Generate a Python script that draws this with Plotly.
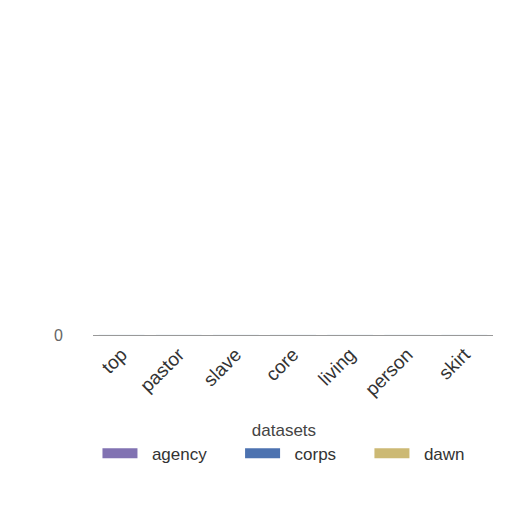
import plotly.graph_objects as go

categories = ["top", "pastor", "slave", "core", "living", "person", "skirt"]
series_names = ["agency", "corps", "dawn"]
agency = [0, 0, 0, 0, 0, 0, 0]
corps = [0, 0, 0, 0, 0, 0, 0]
dawn = [0, 0, 0, 0, 0, 0, 0]
colors = ["#8172b2", "#4c72b0", "#ccb974"]

fig = go.Figure()
for i, (name, vals, col) in enumerate(zip(series_names, [agency, corps, dawn], colors)):
    fig.add_trace(go.Bar(name=name, x=categories, y=vals, marker_color=col,
                         legendgroup=name, showlegend=False))
    # wide swatch for legend, padded label to space the entries out
    label = "  " + name + ("      " if i < len(series_names) - 1 else "")
    fig.add_trace(go.Scatter(name=label, x=[None], y=[None], mode="lines",
                             line=dict(color=col, width=11), legendgroup=name))

fig.update_layout(
    width=512, height=512,
    barmode="group",
    paper_bgcolor="white", plot_bgcolor="white",
    font=dict(family="Liberation Sans, Arial", size=17, color="#333333"),
    margin=dict(l=85, r=27, t=20, b=185, autoexpand=False),
    showlegend=True,
    legend=dict(
        orientation="h", xref="container", x=0.539, xanchor="center",
        y=-0.256, yanchor="top",
        title=dict(text="datasets", side="top center", font=dict(size=17, color="#444444")),
        font=dict(size=17), itemwidth=35,
    ),
)
fig.update_xaxes(tickangle=-45, showline=True, linecolor="#999999", ticks="",
                 automargin=False, tickfont=dict(size=19))
fig.update_yaxes(range=[0, 1], tickvals=[0], showgrid=False, zeroline=False,
                 automargin=False, ticklabelstandoff=29,
                 tickfont=dict(color="#666666", size=16))

fig.write_html("out.html")
